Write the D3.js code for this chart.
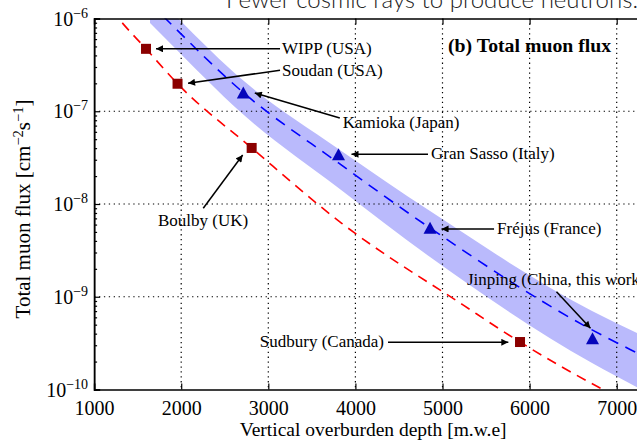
<!DOCTYPE html>
<html>
<head>
<meta charset="utf-8">
<script src="https://cdn.jsdelivr.net/npm/d3@7"></script>
<style>
  html, body { margin: 0; padding: 0; background: #fff; overflow: hidden; }
  svg { display: block; }
</style>
</head>
<body>
<svg id="chart" width="637" height="440"></svg>
<script>
// ---- data -------------------------------------------------------------
const depthTicks = [1000, 2000, 3000, 4000, 5000, 6000, 7000];
const fluxTicks = [1e-10, 1e-9, 1e-8, 1e-7, 1e-6];
const fluxExponents = [-10, -9, -8, -7, -6];

// flat-overburden sites (squares)
const squareSites = ["WIPP (USA)", "Soudan (USA)", "Boulby (UK)", "Sudbury (Canada)"];
const squareDepth = [1596, 1958, 2809, 5890];
const squareFlux = [4.71e-7, 1.98e-7, 4.02e-8, 3.25e-10];

// mountain sites (triangles)
const triangleSites = ["Kamioka (Japan)", "Gran Sasso (Italy)", "Fréjus (France)", "Jinping (China, this work)"];
const triangleDepth = [2713, 3806, 4857, 6722];
const triangleFlux = [1.59e-7, 3.44e-8, 5.56e-9, 3.56e-10];

// depth–intensity curve for flat overburden (red dashed)
const redCurveDepth = [1200, 1286, 1596, 1958, 2809, 3843, 5235, 5890, 6843, 7000];
const redCurveFlux = [1.25e-6, 9.89e-7, 4.71e-7, 1.98e-7, 4.02e-8, 6.19e-9, 8.17e-10, 3.25e-10, 1.0e-10, 8.4e-11];

// depth–intensity curve for mountain sites (blue dashed) and its band
const blueCurveDepth = [1642, 1825, 2713, 3806, 4857, 6717, 7233, 7500];
const blueCurveFlux = [1.47e-6, 9.88e-7, 1.59e-7, 2.77e-8, 5.51e-9, 4.39e-10, 2.48e-10, 1.86e-10];
const bandUpperFlux = [2.03e-6, 1.36e-6, 2.14e-7, 3.92e-8, 8.39e-9, 7.03e-10, 4.07e-10, 3.13e-10];
const bandLowerFlux = [8.93e-7, 6.01e-7, 9.22e-8, 1.49e-8, 2.68e-9, 1.93e-10, 1.06e-10, 7.81e-11];

// ---- layout -----------------------------------------------------------
const svg = d3.select("#chart");
const padL = 94.1, padT = 18.5, padB = 389.5;
const padR = padL + 6.5 * 87.1;

const x = d3.scaleLinear().domain([1000, 7500]).range([padL, padR]);
const y = d3.scaleLog().domain([1e-10, 1e-6]).range([padB, padT]);

const serif = '"Liberation Serif", "Times New Roman", serif';

// headline above the figure
svg.append("text")
  .attr("x", 226).attr("y", 7.5)
  .attr("font-family", 'Lato, "Open Sans", sans-serif')
  .attr("font-weight", 300)
  .attr("font-size", 24)
  .attr("fill", "#222")
  .text("Fewer cosmic rays to produce neutrons.");

const defs = svg.append("defs");
defs.append("clipPath").attr("id", "plotClip")
  .append("rect").attr("x", padL).attr("y", padT)
  .attr("width", padR - padL).attr("height", padB - padT);

const plot = svg.append("g").attr("clip-path", "url(#plotClip)");

// band
const band = d3.area()
  .x((d, i) => x(blueCurveDepth[i]))
  .y0((d, i) => y(bandLowerFlux[i]))
  .y1((d, i) => y(bandUpperFlux[i]))
  .curve(d3.curveMonotoneX);
plot.append("path").attr("d", band(blueCurveDepth))
  .attr("fill", "#babafc").attr("stroke", "none");

// grid
const gridStyle = { stroke: "#000", "stroke-width": 1.2, "stroke-dasharray": "1.3,3.6" };
const gv = plot.selectAll("line.gv").data(depthTicks.slice(1)).join("line")
  .attr("x1", d => x(d)).attr("x2", d => x(d)).attr("y1", padT).attr("y2", padB);
const gh = plot.selectAll("line.gh").data(fluxTicks.slice(1, -1)).join("line")
  .attr("y1", d => y(d)).attr("y2", d => y(d)).attr("x1", padL).attr("x2", padR);
[gv, gh].forEach(s => Object.entries(gridStyle).forEach(([k, v]) => s.attr(k, v)));

// curves
const curve = d3.line().x(d => x(d[0])).y(d => y(d[1])).curve(d3.curveMonotoneX);
plot.append("path")
  .attr("d", curve(redCurveDepth.map((d, i) => [d, redCurveFlux[i]])))
  .attr("fill", "none").attr("stroke", "#ff0000").attr("stroke-width", 1.6)
  .attr("stroke-dasharray", "10,7");
plot.append("path")
  .attr("d", curve(blueCurveDepth.map((d, i) => [d, blueCurveFlux[i]])))
  .attr("fill", "none").attr("stroke", "#0000ff").attr("stroke-width", 1.6)
  .attr("stroke-dasharray", "11,8");

// axes
const axB = svg.append("g").attr("transform", `translate(0,${padB})`)
  .call(d3.axisBottom(x).tickValues(depthTicks).tickFormat(d3.format("d")).tickSize(-6).tickPadding(11));
const axT = svg.append("g").attr("transform", `translate(0,${padT})`)
  .call(d3.axisTop(x).tickValues(depthTicks).tickFormat("").tickSize(-6));
const axL = svg.append("g").attr("transform", `translate(${padL},0)`)
  .call(d3.axisLeft(y).tickValues(fluxTicks).tickFormat("").tickSize(-6));
const minorVals = [];
fluxExponents.slice(0, -1).forEach(e => { for (let m = 2; m <= 9; m++) minorVals.push(m * Math.pow(10, e)); });
const axLm = svg.append("g").attr("transform", `translate(${padL},0)`)
  .call(d3.axisLeft(y).tickValues(minorVals).tickFormat("").tickSize(-3));
[axB, axT, axL, axLm].forEach(g => {
  g.select(".domain").attr("stroke", "#000").attr("stroke-width", 1.5);
  g.selectAll(".tick line").attr("stroke", "#000").attr("stroke-width", 1.2);
});
axB.selectAll(".tick text").attr("font-family", serif).attr("font-size", 20).attr("fill", "#000");

// y tick labels with superscript exponents
const yl = svg.selectAll("text.ylab").data(fluxTicks).join("text")
  .attr("class", "ylab").attr("font-family", serif).attr("fill", "#000")
  .attr("text-anchor", "end")
  .attr("x", padL - 6).attr("y", d => y(d) + 7);
yl.append("tspan").attr("font-size", 20).text("10");
yl.append("tspan").attr("font-size", 14).attr("dy", -8)
  .text((d, i) => "\u2212" + String(-fluxExponents[i]));

// axis titles
svg.append("text").attr("font-family", serif).attr("font-size", 19.5)
  .attr("text-anchor", "middle").attr("x", (padL + padR) / 2 - 4).attr("y", 436)
  .text("Vertical overburden depth [m.w.e]");
const yt = svg.append("text").attr("font-family", serif).attr("font-size", 21)
  .attr("text-anchor", "middle")
  .attr("transform", `translate(30,${(padT + padB) / 2 + 5}) rotate(-90)`);
yt.append("tspan").text("Total muon flux [cm");
yt.append("tspan").attr("font-size", 14.5).attr("dy", -7.5).text("\u22122");
yt.append("tspan").attr("dy", 7.5).text("s");
yt.append("tspan").attr("font-size", 14.5).attr("dy", -7.5).text("\u22121");
yt.append("tspan").attr("dy", 7.5).text("]");

// panel title
svg.append("text").attr("font-family", serif).attr("font-size", 19.8).attr("font-weight", "bold")
  .attr("x", 448).attr("y", 52).text("(b) Total muon flux");

// markers
svg.selectAll("rect.site").data(squareDepth).join("rect")
  .attr("x", (d) => x(d) - 5).attr("y", (d, i) => y(squareFlux[i]) - 5)
  .attr("width", 10).attr("height", 10).attr("fill", "#8b0000");
const tri = d3.line();
svg.selectAll("path.site").data(triangleDepth).join("path")
  .attr("d", (d, i) => {
    const cx = x(d), cy = y(triangleFlux[i]);
    return tri([[cx, cy - 6], [cx - 6.5, cy + 6], [cx + 6.5, cy + 6]]) + "Z";
  })
  .attr("fill", "#0505bb");

// annotations: arrow tip / tail and label offsets relative to the marker
defs.append("marker").attr("id", "head").attr("viewBox", "0 0 10 10")
  .attr("refX", 10).attr("refY", 5).attr("markerWidth", 8).attr("markerHeight", 7)
  .attr("markerUnits", "userSpaceOnUse").attr("orient", "auto")
  .append("path").attr("d", "M0,0L10,5L0,10Z").attr("fill", "#000");

const notes = [
  { name: squareSites[0], kind: "sq", i: 0, tip: [10, 0], tail: [134, 0], text: [136, 5.5], anchor: "start" },
  { name: squareSites[1], kind: "sq", i: 1, tip: [10.5, -0.5], tail: [102.5, -13.5], text: [104.5, -7.5], anchor: "start" },
  { name: squareSites[2], kind: "sq", i: 2, tip: [-9, 7], tail: [-48.4, 60.3], text: [-93.7, 78], anchor: "start" },
  { name: squareSites[3], kind: "sq", i: 3, tip: [-11.7, 0.3], tail: [-132, 0.3], text: [-136, 5], anchor: "end" },
  { name: triangleSites[0], kind: "tr", i: 0, tip: [11.5, 0.5], tail: [96.5, 25.5], text: [99.5, 35.5], anchor: "start" },
  { name: triangleSites[1], kind: "tr", i: 1, tip: [13, 0], tail: [89.5, 0], text: [92.5, 5], anchor: "start" },
  { name: triangleSites[2], kind: "tr", i: 2, tip: [11.5, 1.3], tail: [64, 1.3], text: [67, 6], anchor: "start" },
  { name: triangleSites[3], kind: "tr", i: 3, tip: [-2, -10], tail: [-36, -46.6], text: [-125.5, -53.3], anchor: "start" }
];
notes.forEach(n => {
  const cx = n.kind === "sq" ? x(squareDepth[n.i]) : x(triangleDepth[n.i]);
  const cy = n.kind === "sq" ? y(squareFlux[n.i]) : y(triangleFlux[n.i]);
  svg.append("line")
    .attr("x1", cx + n.tail[0]).attr("y1", cy + n.tail[1])
    .attr("x2", cx + n.tip[0]).attr("y2", cy + n.tip[1])
    .attr("stroke", "#000").attr("stroke-width", 1.5).attr("marker-end", "url(#head)");
  svg.append("text").attr("font-family", serif).attr("font-size", 17).attr("fill", "#000")
    .attr("text-anchor", n.anchor)
    .attr("x", cx + n.text[0]).attr("y", cy + n.text[1]).text(n.name);
});
</script>
</body>
</html>
